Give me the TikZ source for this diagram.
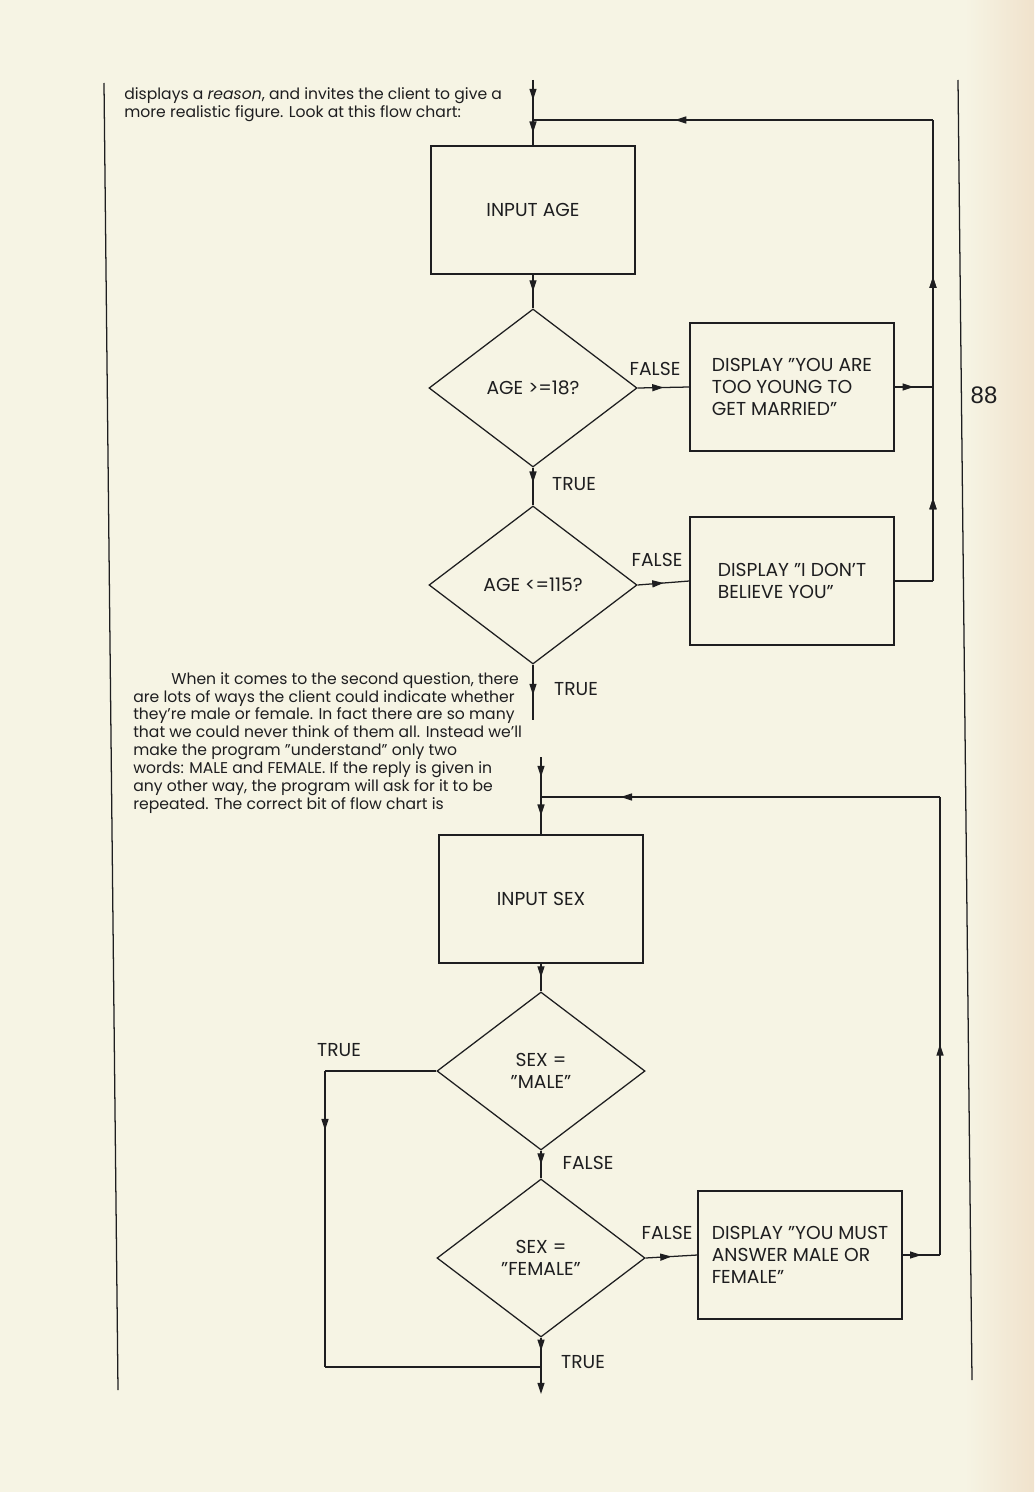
\documentclass[tikz,border=0pt]{standalone}
\usepackage{fontspec}
\setmainfont{Poppins}
\newfontfamily\pagefont{Liberation Sans}
\usepackage{tikz}
\usetikzlibrary{arrows.meta,positioning,shapes.geometric,decorations.markings}
\usepackage{xcolor}
\definecolor{paper}{RGB}{246,244,228}
\definecolor{edge}{RGB}{240,226,204}
\definecolor{ink}{RGB}{30,30,32}

\newcommand{\chartfont}{\fontsize{13.3}{15.4}\selectfont}
\newcommand{\bodyfont}{\fontsize{11.1}{12.7}\selectfont}

\begin{document}
\begin{tikzpicture}[
  x=0.025cm, y=-0.025cm,
  box/.style={rectangle, draw=ink, line width=0.9pt, minimum width=5.1cm,
              minimum height=3.2cm, font=\chartfont, text=ink, align=center},
  msg/.style={box, align=left},
  test/.style={diamond, draw=ink, line width=0.9pt, minimum width=5.2cm,
               minimum height=3.95cm, inner sep=0pt, aspect=1.33,
               font=\chartfont, text=ink, align=center},
  lbl/.style={font=\chartfont, text=ink},
  flow/.style={draw=ink, line width=0.9pt},
  marr/.style={decoration={markings, mark=at position #1 with
               {\arrow{Triangle[length=8pt,width=5pt]}}}, postaction={decorate}},
  marr/.default=0.5,
  rule/.style={draw=ink, line width=0.9pt},
  >={Triangle[length=8pt,width=5pt]}
]

% page
\fill[paper] (0,0) rectangle (1034,1492);
\shade[left color=paper, right color=edge] (965,0) rectangle (1034,1492);
\draw[rule] (104,83) -- (118,1390);
\draw[rule] (958,80) -- (972,1380);
\node[font=\pagefont\fontsize{17}{17}\selectfont, text=ink] (pageno) at (984,395) {88};

% running text
\node[font=\bodyfont, text=ink, anchor=north west, align=left, inner sep=0pt] (intro) at (124,87)
  {displays a \emph{reason}, and invites the client to give a\\more realistic figure. Look at this flow chart:};
\node[font=\bodyfont, text=ink, anchor=north west, align=left, inner sep=0pt] (para) at (133,672)
  {\hspace*{0.95cm}When it comes to the second question, there\\
   are lots of ways the client could indicate whether\\
   they're male or female. In fact there are so many\\
   that we could never think of them all. Instead we'll\\
   make the program ''understand'' only two\\
   words: MALE and FEMALE. If the reply is given in\\
   any other way, the program will ask for it to be\\
   repeated. The correct bit of flow chart is};

% first chart: age
\node[box] (age) at (533,210) {INPUT AGE};
\node[test] (q1) at (533,388) {AGE >=18?};
\node[msg] (msg1) at (792,387) {DISPLAY ''YOU ARE\\TOO YOUNG TO\\GET MARRIED''};
\node[test] (q2) at (533,585) {AGE <=115?};
\node[msg] (msg2) at (792,581) {DISPLAY ''I DON'T\\BELIEVE YOU''};

\coordinate (in1) at (533,80);
\coordinate (j1) at (533,120);
\coordinate (r1) at (933,120);
\coordinate (k2) at (933,387);
\coordinate (k3) at (933,581);
\coordinate (t2) at (533,720);

\draw[flow, marr] (in1) -- (j1);
\draw[flow, marr] (j1) -- (age.north);
\draw[flow, marr] (age.south) -- (q1.north);
\draw[flow, marr] (q1.east) -- (msg1.west);
\draw[flow, marr] (msg1.east) -- (k2);
\draw[flow, marr=0.4] (q1.south) -- (q2.north);
\draw[flow, marr] (q2.east) -- (msg2.west);
\draw[flow] (msg2.east) -- (k3);
\draw[flow, marr=0.18, marr=0.66] (k3) -- (r1);
\draw[flow, marr=0.645] (r1) -- (j1);
\draw[flow, marr=0.55] (q2.south) -- (t2);

\node[lbl] (f1) at (655,369) {FALSE};
\node[lbl] (tr1) at (574,484) {TRUE};
\node[lbl] (f2) at (657,560) {FALSE};
\node[lbl] (tr2) at (576,689) {TRUE};

% second chart: sex
\node[box] (sex) at (541,899) {INPUT SEX};
\node[test] (q3) at (541,1071) {SEX =\\''MALE''};
\node[test] (q4) at (541,1258) {SEX =\\''FEMALE''};
\node[msg] (msg3) at (800,1255) {DISPLAY ''YOU MUST\\ANSWER MALE OR\\FEMALE''};

\coordinate (in2) at (541,757);
\coordinate (j2) at (541,797);
\coordinate (r2) at (940,797);
\coordinate (k5) at (940,1255);
\coordinate (l1) at (325,1071);
\coordinate (l2) at (325,1367);
\coordinate (j3) at (541,1367);
\coordinate (out2) at (541,1394);

\draw[flow, marr] (in2) -- (j2);
\draw[flow, marr] (j2) -- (sex.north);
\draw[flow, marr] (sex.south) -- (q3.north);
\draw[flow, marr] (q3.south) -- (q4.north);
\draw[flow, marr] (q4.east) -- (msg3.west);
\draw[flow, marr] (msg3.east) -- (k5);
\draw[flow, marr=0.46] (k5) -- (r2);
\draw[flow, marr=0.8] (r2) -- (j2);
\draw[flow] (q3.west) -- (l1);
\draw[flow, marr=0.2] (l1) -- (l2);
\draw[flow] (l2) -- (j3);
\draw[flow, marr=0.45] (q4.south) -- (j3);
\draw[flow, ->] (j3) -- (out2);

\node[lbl] (tr3) at (339,1050) {TRUE};
\node[lbl] (f3) at (588,1163) {FALSE};
\node[lbl] (f4) at (667,1233) {FALSE};
\node[lbl] (tr4) at (583,1362) {TRUE};

\end{tikzpicture}
\end{document}
